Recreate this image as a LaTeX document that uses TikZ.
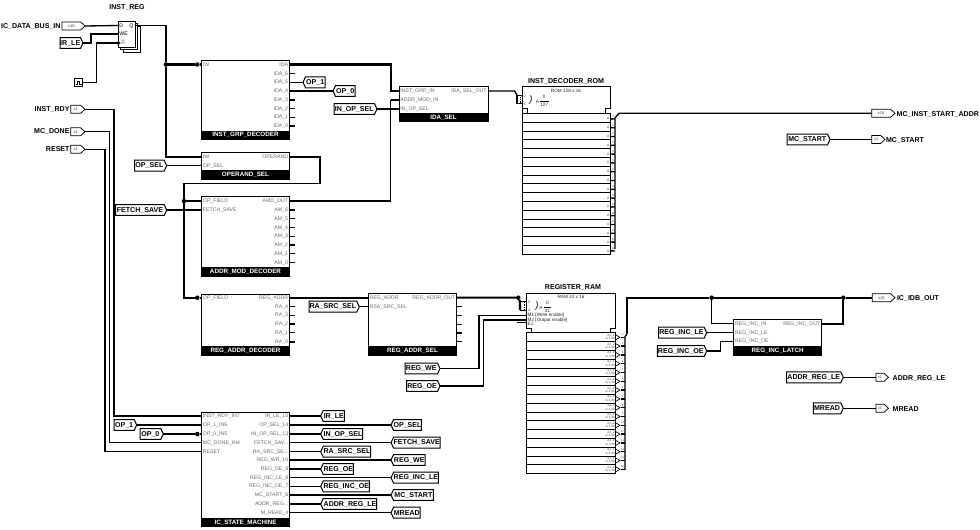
\documentclass[tikz,border=0pt]{standalone}
\usepackage{fontspec}
\setmainfont{Liberation Sans}
\usetikzlibrary{shapes.symbols,shapes.geometric,calc}
\definecolor{portgray}{gray}{0.42}
\tikzset{
  x=0.75pt,y=-0.75pt,
  wire/.style={line width=1pt,black,line join=miter},
  bus/.style={line width=1.55pt,black,line join=miter},
  thin wire/.style={line width=0.6pt,black},
  blockbox/.style={draw=black,line width=0.75pt,fill=white,inner sep=0pt,outer sep=0pt},
  titlebar/.style={fill=black,text=white,font=\fontsize{4.7}{5}\selectfont\bfseries,inner sep=0pt,outer sep=0pt,draw=black,line width=0.4pt},
  portl/.style={text=portgray,font=\fontsize{3.9}{4.5}\selectfont,inner xsep=1.1pt,inner ysep=0pt,outer sep=0pt,anchor=west,text height=3pt,text depth=0.6pt},
  portr/.style={text=portgray,font=\fontsize{3.9}{4.5}\selectfont,inner xsep=1.1pt,inner ysep=0pt,outer sep=0pt,anchor=east,text height=3pt,text depth=0.6pt},
  flagin/.style={shape=signal,signal to=east,signal pointer angle=130,draw=black,line width=0.75pt,fill=white,inner sep=0pt,outer sep=0pt,font=\fontsize{5.3}{6}\selectfont\bfseries,anchor=west,minimum height=8.2pt},
  flagout/.style={shape=signal,signal to=west,signal pointer angle=130,draw=black,line width=0.75pt,fill=white,inner sep=0pt,outer sep=0pt,font=\fontsize{5.3}{6}\selectfont\bfseries,anchor=west,minimum height=8.2pt},
  pintag/.style={shape=signal,signal to=east,signal pointer angle=85,draw=black,line width=0.55pt,fill=white,inner sep=0pt,outer sep=0pt,font=\fontsize{3}{3.5}\selectfont,text=black!75,anchor=west,minimum height=6pt},
  pinlabel/.style={font=\fontsize{5.3}{6}\selectfont\bfseries,inner sep=0pt,outer sep=0pt},
  heading/.style={font=\fontsize{5.3}{6}\selectfont\bfseries,inner sep=0pt,outer sep=0pt},
  tinytext/.style={font=\fontsize{2.6}{3}\selectfont,text=black!75,inner sep=0pt,outer sep=0pt},
  smalltext/.style={font=\fontsize{3.5}{4}\selectfont,text=black!85,inner sep=0pt,outer sep=0pt},
  rowbox/.style={draw=black,line width=0.6pt,fill=white,inner sep=0pt,outer sep=0pt,anchor=north west},
  dotnode/.style={circle,fill=black,inner sep=0pt,outer sep=0pt,minimum size=3.4pt},
}
\newcommand\Block[7]{%
  \node[blockbox,anchor=north west,minimum width={(#4-#2)*0.75pt},minimum height={(#5-#3)*0.75pt}] (#1) at (#2,#3) {};
  \node[titlebar,anchor=north west,minimum width={(#4-#2)*0.75pt},minimum height={(#5-#6)*0.75pt}] (#1-title) at (#2,#6) {#7};}
\newcommand\PortL[4]{\node[portl] (#1) at (#2,#3) {#4};}
\newcommand\PortR[4]{\node[portr] (#1) at (#2,#3) {#4};}
\newcommand\StubR[4]{\PortR{#1}{#2}{#3}{#4}\coordinate (#1-end) at (#2+5.5,#3); \draw[wire] (#1.east) -- (#1-end);}
\newcommand\FlagIn[5]{\node[flagin,minimum width={(#3-#2)*0.75pt}] (#1) at (#2,#4) {#5};}
\newcommand\FlagOut[5]{\node[flagout,minimum width={(#3-#2)*0.75pt}] (#1) at (#2,#4) {#5};}
\newcommand\PinTag[5]{\node[pintag,minimum width={(#3-#2)*0.75pt}] (#1) at (#2,#4) {#5};}
\begin{document}
\begin{tikzpicture}
\useasboundingbox (0,0) rectangle (980,529);

% ---------- INST_REG
\node[heading] (instreglabel) at (127,7) {INST\_REG};
\node[blockbox,anchor=north west,minimum width=12.75pt,minimum height=19.5pt] (regc) at (123,26) {};
\node[blockbox,anchor=north west,minimum width=12.75pt,minimum height=19.5pt] (regb) at (120.5,23.5) {};
\node[blockbox,anchor=north west,minimum width=12.75pt,minimum height=19.5pt] (rega) at (118,21) {};
\PortL{regD}{118}{25.5}{\textcolor{black}{D}}
\PortL{regWE}{118}{34}{\textcolor{black}{WE}}
\PortL{regR}{118}{43}{\hspace{1.5pt}R}
\PortR{regQ}{135}{25.5}{\textcolor{black}{Q}}
\PinTag{dbus}{62}{85}{26}{x16}
\node[pinlabel,anchor=east] (dbuslabel) at (60.5,26) {IC\_DATA\_BUS\_IN};
\FlagIn{irleIn}{60}{83}{43}{IR\_LE}
\node[draw=black,line width=0.75pt,fill=white,inner sep=0pt,outer sep=0pt,minimum size=6.5pt] (clk) at (78.5,82.5) {};
\draw[line width=0.5pt] ($(clk.center)+(-3,1.5)$) -- ++(2,0) -- ++(0,-3) -- ++(2,0) -- ++(0,3) -- ++(2,0);
\draw[wire] (dbus.east) -- (regD.west);
\draw[wire] (irleIn.east) -| (91,0 |- regWE.west) -- (regWE.west);
\draw[wire] (clk.east) -| (96.5,0 |- regR.west) -- (regR.west);
\draw[line width=0.4pt,fill=black] (regR.west) ++(0,-1.6) -- ++(2.2,1.6) -- ++(-2.2,1.6) -- cycle;

% ---------- left pins
\PinTag{rdy}{70.7}{85}{109.3}{x1}
\node[pinlabel,anchor=east] (rdylabel) at (69.5,109.3) {INST\_RDY};
\PinTag{done}{70.7}{85}{131.7}{x1}
\node[pinlabel,anchor=east] (donelabel) at (69.5,131.7) {MC\_DONE};
\PinTag{rst}{70.7}{85}{149.3}{x1}
\node[pinlabel,anchor=east] (rstlabel) at (69.5,149.3) {RESET};

% ---------- INST_GRP_DECODER
\Block{ig}{201.5}{60}{289.5}{139}{131}{INST\_GRP\_DECODER}
\PortL{igIW}{201.5}{64.5}{IW}
\PortR{igIDA}{289.5}{64.5}{IDA}
\StubR{igS6}{289.5}{73.7}{IDA\_6}
\PortR{igS5}{289.5}{82.3}{IDA\_5}
\PortR{igS4}{289.5}{91}{IDA\_4}
\StubR{igS3}{289.5}{100}{IDA\_3}
\StubR{igS2}{289.5}{108.7}{IDA\_2}
\StubR{igS1}{289.5}{117.3}{IDA\_1}
\StubR{igS0}{289.5}{126}{IDA\_0}
\FlagOut{opOneA}{303}{325}{82.3}{OP\_1}
\FlagOut{opZeroA}{333}{355}{91}{OP\_0}
\draw[wire] (igS5.east) -- (opOneA.west);
\draw[wire] (igS4.east) -- (opZeroA.west);

% ---------- OPERAND_SEL
\Block{os}{201.5}{152.7}{289.5}{179.3}{170.7}{OPERAND\_SEL}
\PortL{osIW}{201.5}{157}{IW}
\PortL{osSel}{201.5}{165.7}{OP\_SEL}
\PortR{osOut}{289.5}{157}{OPERAND}
\FlagIn{opselIn}{134.7}{166.7}{165.7}{OP\_SEL}
\draw[wire] (opselIn.east) -- (osSel.west);

% ---------- Q bus
\node[dotnode] (j1) at (166,64.5) {};
\node[dotnode] (j2) at (197.3,64.5) {};
\draw[wire] (regQ.east) -| (j1);
\draw[bus] (j1) -- (j2) -- (igIW.west);
\draw[wire] (j1) |- (osIW.west);

% ---------- ADDR_MOD_DECODER
\Block{am}{201.5}{196.7}{289.5}{276}{267.3}{ADDR\_MOD\_DECODER}
\PortL{amOp}{201.5}{201}{OP\_FIELD}
\PortL{amFs}{201.5}{210}{FETCH\_SAVE}
\PortR{amOut}{289.5}{201}{AMD\_OUT}
\StubR{amS6}{289.5}{210}{AM\_6}
\StubR{amS5}{289.5}{218.7}{AM\_5}
\StubR{amS4}{289.5}{227.7}{AM\_4}
\StubR{amS3}{289.5}{236.3}{AM\_3}
\StubR{amS2}{289.5}{245}{AM\_2}
\StubR{amS1}{289.5}{253.7}{AM\_1}
\StubR{amS0}{289.5}{262.7}{AM\_0}
\FlagIn{fsIn}{115.7}{166.7}{210}{FETCH\_SAVE}
\draw[wire] (fsIn.east) -- (amFs.west);

% ---------- REG_ADDR_DECODER
\Block{rd}{201.5}{294}{289.5}{355}{346.7}{REG\_ADDR\_DECODER}
\PortL{rdOp}{201.5}{297.7}{OP\_FIELD}
\PortR{rdOut}{289.5}{297.7}{REG\_ADDR}
\StubR{rdS4}{289.5}{306.7}{RA\_4}
\StubR{rdS3}{289.5}{315.3}{RA\_3}
\StubR{rdS2}{289.5}{324}{RA\_2}
\StubR{rdS1}{289.5}{332.7}{RA\_1}
\StubR{rdS0}{289.5}{342}{RA\_0}

% ---------- operand bus
\node[dotnode] (j3) at (184,201) {};
\node[dotnode] (j4) at (197.3,297.7) {};
\draw[wire] (osOut.east) -| (320,183.5) -| (j3);
\draw[wire] (j3) -- (amOp.west);
\draw[bus] (j3) |- (j4) -- (rdOp.west);

% ---------- IDA_SEL
\Block{ida}{399}{86.7}{488}{121.7}{113.3}{IDA\_SEL}
\PortL{idaA}{399}{91}{INST\_GRP\_IN}
\PortL{idaB}{399}{100}{ADDR\_MOD\_IN}
\PortL{idaC}{399}{109}{IN\_OP\_SEL}
\PortR{idaOut}{488}{91}{IDA\_SEL\_OUT}
\FlagIn{inopIn}{334}{377}{109}{IN\_OP\_SEL}
\draw[bus] (igIDA.east) -| (390.7,0 |- idaA.west) -- (idaA.west);
\draw[bus] (390.7,0 |- idaB.west) -- (idaB.west);
\draw[wire] (amOut.east) -| (390.7,0 |- idaB.west);
\draw[wire] (inopIn.east) -- (idaC.west);

% ---------- INST_DECODER_ROM
\node[heading] (romlabel) at (566,81) {INST\_DECODER\_ROM};
\foreach \i in {0,...,15}{
  \pgfmathsetmacro\ry{113.3+8.8*\i}
  \node[rowbox,minimum width=66.3pt,minimum height=6.6pt] (romrow\i) at (522.3,\ry) {};
  \node[tinytext,anchor=east] (romA\i) at (609.5,\ry+5.5) {A};
  \coordinate (romS\i) at (615,\ry+5.7);
  \draw[wire] (romA\i.east) ++(1,0) -- (romS\i);
  \node[tinytext,font=\fontsize{2}{2.4}\selectfont] (romN\i) at (613,\ry+3) {\i};
}
\draw[thin wire,fill=white,line width=0.7pt] (522.3,113.3) -- (522.3,108.3) -- (527,108.3) -- (527,113.3) -- (605,113.3) -- (605,108.3) -- (610.7,108.3) -- (610.7,86.7) -- (522.3,86.7) -- (522.3,108.3);
\node[smalltext] (romsize) at (566,90.7) {ROM 128 x 16};
\node[tinytext] (rom0) at (524.6,96.7) {0};
\node[tinytext] (rom6) at (524.6,104.3) {6};
\node[smalltext,font=\fontsize{7}{7}\selectfont\itshape,text=black] (rombrace) at (531,100) {)};
\node[smalltext] (romAA) at (537.3,101.7) {A};
\node[smalltext] (romF0) at (544.2,96.5) {0};
\node[smalltext] (romF1) at (544.2,104.7) {127};
\draw[line width=0.35pt] (540,100.8) -- (548.5,100.8);
\coordinate (romJ) at (517,95);
\coordinate (romJb) at (517,103.5);
\draw[wire] (idaOut.east) -- (514.5,91) -- (romJ);
\draw[wire] (romJ) -- (romJb);
\draw[thin wire] (romJ) -- (522.3,0 |- romJ);
\draw[thin wire] (romJb) -- (522.3,0 |- romJb);
\draw[line width=0.4pt,densely dotted] (520,95) -- (520,103.5);
\PinTag{startaddr}{871.7}{895}{113.3}{x16}
\node[pinlabel,anchor=west] (startaddrlabel) at (896.7,114) {MC\_INST\_START\_ADDR};
\coordinate (romBusTop) at (615,118);
\coordinate (romBusEnd) at (615,249);
\draw[wire] (romBusEnd) -- (romBusTop) -- (619,113.3) -- (startaddr.west);

\FlagIn{mcstartIn}{787}{830}{139.5}{MC\_START}
\PinTag{mcstartPin}{871.7}{885}{139.5}{x1}
\node[pinlabel,anchor=west] (mcstartlabel) at (886,140) {MC\_START};
\draw[wire] (mcstartIn.east) -- (mcstartPin.west);

% ---------- REG_ADDR_SEL
\Block{rs}{368.3}{293.3}{456.7}{355}{346.7}{REG\_ADDR\_SEL}
\PortL{rsA}{368.3}{297.7}{REG\_ADDR}
\PortL{rsB}{368.3}{306.7}{RSA\_SRC\_SEL}
\PortR{rsOut}{456.7}{297.7}{REG\_ADDR\_OUT}
\coordinate (rsT1a) at (456.7,306.7); \coordinate (rsT1b) at (462,306.7); \draw[wire] (rsT1a) -- (rsT1b);
\coordinate (rsT2a) at (456.7,315.7); \coordinate (rsT2b) at (462,315.7); \draw[wire] (rsT2a) -- (rsT2b);
\coordinate (rsT3a) at (456.7,324.3); \coordinate (rsT3b) at (462,324.3); \draw[wire] (rsT3a) -- (rsT3b);
\coordinate (rsT4a) at (456.7,333); \coordinate (rsT4b) at (462,333); \draw[wire] (rsT4a) -- (rsT4b);
\coordinate (rsT5a) at (456.7,341.7); \coordinate (rsT5b) at (462,341.7); \draw[wire] (rsT5a) -- (rsT5b);
\FlagIn{rasrcIn}{309}{359.3}{306.7}{RA\_SRC\_SEL}
\draw[bus] (rdOut.east) -- (rsA.west);
\draw[wire] (rasrcIn.east) -- (rsB.west);

% ---------- REGISTER_RAM
\node[heading] (ramlabel) at (573,287.7) {REGISTER\_RAM};
\foreach \i in {0,...,15}{
  \pgfmathsetmacro\ry{332.7+8.8*\i}
  \node[rowbox,minimum width=66.3pt,minimum height=6.6pt] (ramrow\i) at (526.7,\ry) {};
  \node[tinytext,anchor=east,align=right,font=\fontsize{2.3}{2.5}\selectfont] (ramA\i) at (614.5,\ry+4.4) {A,1,2\\A,1,30};
  \node[draw=black,line width=0.5pt,fill=white,shape=regular polygon,regular polygon sides=3,shape border rotate=-90,inner sep=0pt,minimum size=4.5pt] (ramT\i) at (617,\ry+4.6) {};
  \coordinate (ramS\i) at (625,\ry+4.6);
  \draw[wire] (ramT\i.east) ++(0.5,0) -- (ramS\i);
  \node[tinytext,font=\fontsize{2}{2.4}\selectfont] (ramN\i) at (622.5,\ry+2) {\i};
}
\draw[line width=0.7pt,fill=white] (526.7,293.3) -- (615,293.3) -- (615,328.3) -- (610,328.3) -- (610,332.7) -- (531,332.7) -- (531,328.3) -- (526.7,328.3) -- cycle;
\node[smalltext] (ramsize) at (571,297.3) {RAM 32 x 16};
\node[tinytext] (ram0) at (529,302.5) {0};
\node[tinytext] (ram4) at (529,310.7) {4};
\node[smalltext,font=\fontsize{7}{7}\selectfont\itshape,text=black] (rambrace) at (537,306.5) {)};
\node[smalltext] (ramAA) at (541,308) {A};
\node[smalltext] (ramF0) at (547.5,302.5) {0};
\node[smalltext] (ramF1) at (547.5,311) {31};
\draw[line width=0.35pt] (544,306.8) -- (551,306.8);
\node[smalltext,anchor=west] (ramM1) at (527.7,315.5) {M1 [Write enable]};
\node[smalltext,anchor=west] (ramM2) at (527.7,319.8) {M2 [Output enable]};
\node[smalltext,anchor=west] (ramE1) at (527.7,324) {E1};
\node[dotnode] (j5) at (518.3,297.7) {};
\coordinate (ramJ) at (520,301.7);
\coordinate (ramJb) at (520,310);
\draw[bus] (rsOut.east) -- (j5) -- (ramJ) -- (ramJb);
\draw[thin wire] (ramJ) -- (526.7,0 |- ramJ);
\draw[thin wire] (ramJb) -- (526.7,0 |- ramJb);
\draw[line width=0.4pt,densely dotted] (524,301.7) -- (524,310);
\coordinate (ramWE) at (526.7,315.7);
\coordinate (ramOE) at (526.7,320);
\coordinate (ramEone) at (526.7,322.7);
\coordinate (ramEzero) at (517,322.7);
\FlagIn{regweIn}{405}{440}{368.5}{REG\_WE}
\FlagIn{regoeIn}{406.7}{440}{386}{REG\_OE}
\draw[wire] (regweIn.east) -| (479,0 |- ramWE) -- (ramWE);
\draw[wire] (regoeIn.east) -| (483.3,0 |- ramOE) -- (ramOE);
\draw[line width=0.6pt] (ramEzero) -- (ramEone);

% ---------- IC_IDB_OUT / latch
\PinTag{idb}{872.3}{895}{297.7}{x16}
\node[pinlabel,anchor=west] (idblabel) at (897,298.5) {IC\_IDB\_OUT};
\node[dotnode] (j6) at (711.7,297.7) {};
\node[dotnode] (j7) at (843.3,297.7) {};
\coordinate (ramBusEnd) at (625,470);
\coordinate (ramBusKnee) at (625,337);
\coordinate (ramBusTop) at (627.3,333);
\draw[wire] (ramBusEnd) -- (ramBusKnee) -- (ramBusTop);
\draw[bus] (ramBusTop) |- (j6) -- (j7) -- (idb.west);
\Block{li}{733.7}{319.3}{821.7}{355}{346}{REG\_INC\_LATCH}
\PortL{liA}{733.7}{323.7}{REG\_INC\_IN}
\PortL{liB}{733.7}{332.7}{REG\_INC\_LE}
\PortL{liC}{733.7}{341.3}{REG\_INC\_OE}
\PortR{liOut}{821.7}{323.7}{REG\_INC\_OUT}
\draw[wire] (j6) |- (liA.west);
\draw[bus] (liOut.east) -| (j7);
\FlagIn{incleIn}{658.7}{706.7}{332.7}{REG\_INC\_LE}
\FlagIn{incoeIn}{657.3}{706.7}{351}{REG\_INC\_OE}
\draw[wire] (incleIn.east) -- (liB.west);
\draw[wire] (incoeIn.east) -| (720.3,0 |- liC.west) -- (liC.west);
\FlagIn{adrIn}{786.7}{843.3}{377.3}{ADDR\_REG\_LE}
\PinTag{adrPin}{876}{888.5}{377.3}{x1}
\node[pinlabel,anchor=west] (adrlabel) at (892.7,378) {ADDR\_REG\_LE};
\draw[wire] (adrIn.east) -- (adrPin.west);
\FlagIn{mreadIn}{813.3}{843.3}{408.3}{MREAD}
\PinTag{mreadPin}{876}{888.5}{408.3}{x1}
\node[pinlabel,anchor=west] (mreadlabel) at (892.7,408.7) {MREAD};
\draw[wire] (mreadIn.east) -- (mreadPin.west);

% ---------- IC_STATE_MACHINE
\Block{sm}{201.5}{412.3}{289.7}{526.7}{518.3}{IC\_STATE\_MACHINE}
\PortL{smA}{201.5}{416}{INST\_RDY\_IN7}
\PortL{smB}{201.5}{425}{OP\_1\_IN6}
\PortL{smC}{201.5}{434}{OP\_0\_IN5}
\PortL{smD}{201.5}{442.7}{MC\_DONE\_IN4}
\PortL{smE}{201.5}{451.7}{RESET}
\PortR{smR15}{289.7}{416}{IR\_LE\_15}
\PortR{smR14}{289.7}{425}{OP\_SEL\_14}
\PortR{smR13}{289.7}{434}{IN\_OP\_SEL\_13}
\PortR{smR12}{289.7}{442.7}{FETCH\_SAV...}
\PortR{smR11}{289.7}{451.7}{RA\_SRC\_SE...}
\PortR{smR10}{289.7}{460}{REG\_WR\_10}
\PortR{smR9}{289.7}{469}{REG\_OE\_9}
\PortR{smR8}{289.7}{477.7}{REG\_INC\_LE\_8}
\PortR{smR7}{289.7}{486.3}{REG\_INC\_OE\_7}
\PortR{smR6}{289.7}{495}{MC\_START\_6}
\PortR{smR5}{289.7}{504}{ADDR\_REG...}
\PortR{smR4}{289.7}{512.7}{M\_READ\_4}
\FlagIn{opOneB}{114}{136.7}{425}{OP\_1}
\FlagIn{opZeroB}{140}{163.3}{434}{OP\_0}
\node[dotnode] (j8) at (197.3,434) {};
\draw[wire] (opOneB.east) -- (smB.west);
\draw[wire] (opZeroB.east) -- (j8) -- (smC.west);
\draw[wire] (rdy.east) -| (114,0 |- smA.west) -- (smA.west);
\draw[wire] (done.east) -| (109.3,0 |- smD.west) -- (smD.west);
\draw[wire] (rst.east) -| (104.9,0 |- smE.west) -- (smE.west);
\FlagOut{oIrle}{320.7}{344.3}{416}{IR\_LE}
\FlagOut{oOpsel}{391}{420.7}{425}{OP\_SEL}
\FlagOut{oInop}{320.7}{362.7}{434}{IN\_OP\_SEL}
\FlagOut{oFetch}{391}{440}{442.7}{FETCH\_SAVE}
\FlagOut{oRasrc}{320.7}{370.7}{451.7}{RA\_SRC\_SEL}
\FlagOut{oRegwe}{391}{425}{460}{REG\_WE}
\FlagOut{oRegoe}{320.7}{353.3}{469}{REG\_OE}
\FlagOut{oIncle}{391}{438.3}{477.7}{REG\_INC\_LE}
\FlagOut{oIncoe}{320.7}{369.3}{486.3}{REG\_INC\_OE}
\FlagOut{oStart}{391}{433.3}{495}{MC\_START}
\FlagOut{oAdr}{320.7}{376.7}{504}{ADDR\_REG\_LE}
\FlagOut{oMread}{391}{420}{512.7}{MREAD}
\draw[wire] (smR15.east) -- (oIrle.west);
\draw[wire] (smR14.east) -- (oOpsel.west);
\draw[wire] (smR13.east) -- (oInop.west);
\draw[wire] (smR12.east) -- (oFetch.west);
\draw[wire] (smR11.east) -- (oRasrc.west);
\draw[wire] (smR10.east) -- (oRegwe.west);
\draw[wire] (smR9.east) -- (oRegoe.west);
\draw[wire] (smR8.east) -- (oIncle.west);
\draw[wire] (smR7.east) -- (oIncoe.west);
\draw[wire] (smR6.east) -- (oStart.west);
\draw[wire] (smR5.east) -- (oAdr.west);
\draw[wire] (smR4.east) -- (oMread.west);
\end{tikzpicture}
\end{document}
